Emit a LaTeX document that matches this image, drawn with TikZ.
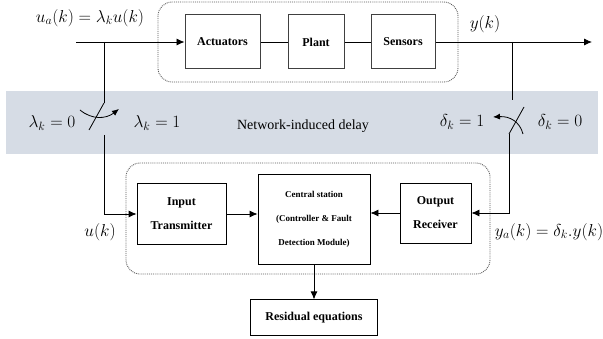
\documentclass[tikz,border=0pt]{standalone}
\usepackage{fontspec}
\setmainfont{Liberation Serif}
\usetikzlibrary{positioning, arrows.meta}
\definecolor{bandblue}{RGB}{214,220,229}

\begin{document}
\begin{tikzpicture}[x=1pt, y=-1pt,
        blk/.style={draw=black!75, line width=1pt, align=center, inner sep=0pt,
            font=\fontsize{12}{24}\selectfont\bfseries},
        grp/.style={draw=black!65, densely dotted, line width=0.9pt, rounded corners=14pt},
        arr/.style={-{Latex[length=8pt,width=7pt]}, line width=0.8pt},
        sarr/.style={-{Latex[length=7pt,width=6pt]}, line width=0.8pt},
        lnk/.style={line width=0.8pt},
        mth/.style={font=\fontsize{17}{20}\selectfont, inner sep=0pt},
    ]
    \useasboundingbox (0,0) rectangle (603,339);

    % Network band
    \fill[bandblue] (6,91) rectangle (598,154);
    \node[font=\fontsize{14}{16}\selectfont] (net) at (303,126) {Network-induced delay};

    % Plant side
    \node[blk, minimum width=75pt, minimum height=54pt] (act) at (222.5,42) {Actuators};
    \node[blk, minimum width=56pt, minimum height=54pt, right=27pt of act] (plant) {Plant};
    \node[blk, minimum width=64pt, minimum height=54pt, right=26pt of plant] (sens) {Sensors};
    \draw[grp] (158,2) rectangle (458,82);

    \coordinate (uin) at (76,42);
    \coordinate (yout) at (592,42);
    \draw[arr] (uin) -- (act.west);
    \draw[lnk] (act) -- (plant);
    \draw[lnk] (plant) -- (sens);
    \draw[arr] (sens.east) -- (yout);

    % Controller side
    \node[blk, draw=black, line width=0.8pt, minimum width=89pt, minimum height=61pt] (inp) at (181.5,214) {Input\\Transmitter};
    \node[blk, draw=black, line width=0.8pt, minimum width=112pt, minimum height=90pt,
        font=\fontsize{9}{24}\selectfont\bfseries] (cen) at (314,219) {Central station\\(Controller \& Fault\\Detection Module)};
    \node[blk, draw=black, line width=0.8pt, minimum width=71pt, minimum height=60pt] (outr) at (435.5,213) {Output\\Receiver};
    \node[blk, draw=black, line width=0.8pt, minimum width=127pt, minimum height=36pt, below=35pt of cen] (res) {Residual equations};
    \draw[grp] (126,163) rectangle (490,274);

    \draw[arr] (inp.east) -- (inp.east -| cen.west);
    \draw[arr] (outr.west) -- (outr.west -| cen.east);
    \draw[arr] (cen.south) -- (res.north);

    % Input switch
    \coordinate (ltop) at (104,42);
    \coordinate (lopen) at (104,103);
    \coordinate (lpiv) at (89,130);
    \coordinate (lbot) at (104,135);
    \draw[lnk] (ltop) -- (lopen);
    \draw[lnk] (lpiv) -- (lopen);
    \draw[arr] (lbot) |- (inp.west);
    \draw[sarr] (80,110) .. controls (92,120) and (106,119) .. (119,109);

    % Output switch
    \coordinate (rtop) at (512,42);
    \coordinate (ropen) at (512,100);
    \coordinate (rpiv) at (509,134);
    \coordinate (rtip) at (524,107);
    \draw[lnk] (rtop) -- (ropen);
    \draw[lnk] (rpiv) -- (rtip);
    \draw[arr] (rpiv) |- (outr.east);
    \draw[sarr] (523,134) .. controls (520,122) and (510,116) .. (493,117);

    % Signal labels
    \node[mth] (ualbl) at (90,18) {$u_a(k)=\lambda_k u(k)$};
    \node[mth] (ylbl) at (485,24) {$y(k)$};
    \node[mth] (lamoff) at (52,123) {$\lambda_k=0$};
    \node[mth] (lamon) at (157,123) {$\lambda_k=1$};
    \node[mth] (delon) at (462,122) {$\delta_k=1$};
    \node[mth] (deloff) at (560,122) {$\delta_k=0$};
    \node[mth] (ulbl) at (100,232) {$u(k)$};
    \node[mth] (yalbl) at (549,232) {$y_a(k)=\delta_k.y(k)$};
\end{tikzpicture}
\end{document}
